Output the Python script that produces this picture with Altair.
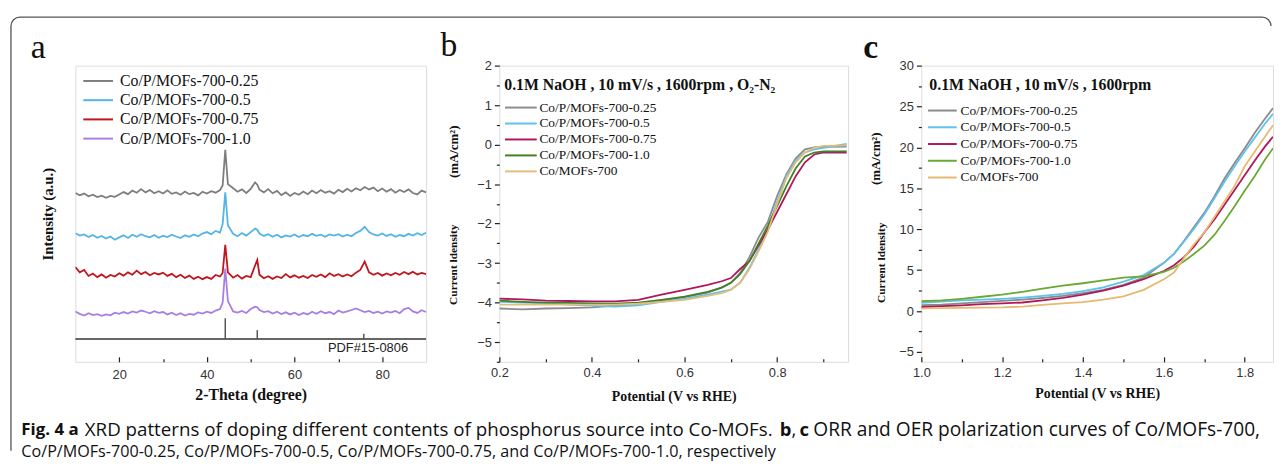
import math
import altair as alt
import pandas as pd

# ---------------- Panel a : XRD ----------------
xrd_labels = ["Co/P/MOFs-700-0.25", "Co/P/MOFs-700-0.5", "Co/P/MOFs-700-0.75", "Co/P/MOFs-700-1.0"]
xrd_colors = ["#7d7d7d", "#53b4e6", "#c0161e", "#a77fe3"]
xrd_theta = [10, 11, 12, 13, 14, 15, 16, 17, 18, 19, 20, 21, 22, 23, 24, 25, 26, 27, 28, 29,
             30, 31, 32, 33, 34, 35, 36, 37, 38, 39, 40, 41, 42, 43, 43.6, 44.2, 44.8,
             46, 47, 48, 49, 50, 51, 51.5, 52, 53, 54, 55, 56, 57, 58, 59, 60, 61,
             62, 63, 64, 65, 66, 67, 68, 69, 70, 71, 72, 73, 74, 75, 76, 77, 78, 79, 80, 81,
             82, 83, 84, 85, 86, 87, 88, 89, 90]
xrd_025 = [57.0, 56.2, 56.8, 55.9, 56.4, 55.6, 56.1, 55.4, 56.0, 55.7,
           56.5, 57.3, 56.6, 57.8, 57.1, 58.3, 57.2, 58.0, 56.9, 57.6,
           56.8, 57.9, 56.7, 57.2, 56.4, 57.5, 56.6, 57.0, 56.2, 57.4,
           56.8, 57.6, 57.1, 58.0, 59.5, 71.6, 60.0,
           58.6, 57.4, 58.2, 57.0, 58.4, 60.6, 59.8,
           58.1, 57.2, 58.3, 56.9, 57.7, 56.3, 57.2, 56.0, 57.0, 56.4,
           57.5, 56.6, 57.8, 56.9, 58.0, 57.1, 57.6, 56.8, 58.1, 57.3,
           58.4, 57.5, 58.6, 57.9, 59.0, 58.2, 58.8, 57.6, 58.5, 57.4,
           58.3, 57.1, 58.0, 57.3, 58.2, 57.0, 56.5, 57.8, 57.2]
xrd_05 = [43.4, 42.6, 43.0, 42.1, 42.8, 41.9, 42.5, 41.6, 42.3, 41.2,
          42.0, 42.7, 41.8, 42.9, 42.2, 43.1, 42.4, 42.0, 42.8, 41.9,
          42.6, 42.1, 42.9, 42.3, 41.8, 42.7, 42.2, 43.0, 42.4, 43.3,
          43.8, 43.1, 44.2, 43.6, 46.5, 57.2, 46.0,
          43.2, 42.4, 43.5, 42.6, 43.8, 45.0, 44.6,
          43.3, 42.5, 43.1, 42.2, 42.9, 42.0, 42.7, 42.3, 43.0, 42.1,
          42.8, 42.4, 43.2, 42.5, 42.9, 42.2, 43.0, 42.6, 43.1, 42.3,
          42.9, 42.4, 43.5, 44.2, 45.6, 43.8, 43.0, 42.6, 43.3, 42.5,
          43.1, 42.2, 42.8, 42.4, 43.2, 42.6, 43.4, 42.8, 43.6]
xrd_075 = [32.0, 30.2, 31.0, 29.0, 29.8, 28.6, 29.5, 28.4, 29.3, 28.8,
           29.9, 29.1, 30.2, 29.4, 30.8, 29.6, 30.3, 29.2, 30.0, 29.5,
           30.1, 29.0, 29.7, 28.6, 29.4, 28.3, 29.1, 28.0, 28.7, 27.9,
           28.6, 28.0, 29.3, 28.8, 30.0, 39.5, 30.2,
           28.4, 29.3, 28.1, 29.0, 28.6, 32.5, 34.4,
           29.4, 28.2, 28.9, 28.0, 28.8, 28.3, 29.6, 28.5, 29.2, 28.4,
           29.0, 28.3, 29.3, 28.7, 29.5, 28.6, 29.9, 29.0, 29.6, 28.8,
           29.5, 28.9, 30.1, 31.0, 33.8, 30.2, 29.4, 30.0, 29.1, 29.8,
           29.2, 30.0, 29.4, 30.3, 29.6, 30.4, 29.5, 30.0, 29.6]
xrd_10 = [17.0, 16.2, 15.6, 16.4, 15.8, 16.1, 15.5, 16.0, 15.7, 16.6,
          16.2, 16.8, 16.3, 17.0, 16.6, 17.3, 16.9, 16.4, 17.1, 16.5,
          16.8, 16.0, 16.6, 15.8, 16.4, 15.6, 16.2, 15.9, 16.7, 16.3,
          16.9, 16.5, 17.3, 17.8, 20.0, 31.5, 20.5,
          17.0, 16.6, 17.2, 16.5, 17.8, 18.6, 18.4,
          17.5, 16.8, 17.1, 16.3, 16.9, 16.1, 16.7, 16.0, 16.6, 15.8,
          16.5, 16.0, 16.9, 16.2, 17.1, 16.4, 16.8, 16.1, 17.3, 16.6,
          17.0, 17.5, 18.0, 17.4, 16.8, 17.2, 16.5, 16.9, 16.3, 17.0,
          16.6, 17.2, 16.4, 17.8, 18.2, 17.0, 16.5, 17.4, 16.8]
pdf_theta = [44.2, 51.5, 75.8]
pdf_top = [14.7, 10.7, 9.5]
pdf_base = 7.7
xrd_major = [20, 40, 60, 80]
xrd_minor = [30, 50, 70]

# ---------------- Panel b : ORR ----------------
pol_labels = ["Co/P/MOFs-700-0.25", "Co/P/MOFs-700-0.5", "Co/P/MOFs-700-0.75",
              "Co/P/MOFs-700-1.0", "Co/MOFs-700"]
orr_colors = ["#8c8c8c", "#5ec1ee", "#b0175c", "#437f24", "#e3bd7c"]
orr_v = [0.2, 0.25, 0.3, 0.35, 0.4, 0.45, 0.5, 0.55, 0.6, 0.65, 0.68, 0.7, 0.72,
         0.74, 0.76, 0.78, 0.8, 0.82, 0.84, 0.86, 0.88, 0.9, 0.95]
orr_025 = [-4.15, -4.17, -4.15, -4.14, -4.12, -4.08, -4.03, -3.95, -3.86, -3.75, -3.62, -3.5,
           -3.25, -2.85, -2.35, -1.95, -1.3, -0.75, -0.35, -0.12, -0.07, -0.06, -0.05]
orr_05 = [-3.98, -4.0, -4.02, -4.05, -4.08, -4.1, -4.07, -3.98, -3.9, -3.8, -3.72, -3.67,
          -3.5, -3.12, -2.65, -2.1, -1.45, -0.8, -0.4, -0.2, -0.12, -0.08, 0.02]
orr_075 = [-3.9, -3.92, -3.95, -3.96, -3.97, -3.97, -3.93, -3.8, -3.68, -3.55, -3.46, -3.38,
           -3.15, -2.95, -2.55, -2.15, -1.7, -1.25, -0.8, -0.45, -0.25, -0.2, -0.2]
orr_10 = [-3.95, -3.98, -4.0, -4.01, -4.02, -4.03, -4.0, -3.93, -3.85, -3.73, -3.62, -3.5,
          -3.28, -2.95, -2.5, -2.05, -1.55, -1.05, -0.6, -0.3, -0.2, -0.17, -0.17]
orr_co = [-4.05, -4.05, -4.05, -4.05, -4.05, -4.05, -4.03, -3.98, -3.93, -3.83, -3.76, -3.68,
          -3.5, -3.15, -2.7, -2.2, -1.5, -0.85, -0.45, -0.2, -0.08, -0.03, -0.02]
orr_x_major = [0.2, 0.4, 0.6, 0.8]
orr_x_minor = [0.3, 0.5, 0.7, 0.9]
orr_y_major = [-5, -4, -3, -2, -1, 0, 1, 2]
orr_y_minor = [-5.5, -4.5, -3.5, -2.5, -1.5, -0.5, 0.5, 1.5]

# ---------------- Panel c : OER ----------------
oer_colors = ["#8a8a8a", "#5ec1ee", "#b0175c", "#6aa932", "#e8b970"]
oer_v = [1.0, 1.05, 1.1, 1.15, 1.2, 1.25, 1.3, 1.35, 1.4, 1.45, 1.5, 1.55, 1.6, 1.625,
         1.65, 1.675, 1.7, 1.725, 1.75, 1.775, 1.8, 1.825, 1.85, 1.87]
oer_025 = [0.72, 0.8, 0.95, 1.1, 1.25, 1.4, 1.6, 1.85, 2.2, 2.6, 3.2, 4.1, 5.9, 7.0, 8.6,
           10.3, 12.0, 14.0, 16.2, 18.1, 19.9, 21.8, 23.5, 24.8]
oer_05 = [1.0, 1.15, 1.3, 1.4, 1.5, 1.65, 1.85, 2.1, 2.45, 2.9, 3.6, 4.4, 5.9, 7.0, 8.5,
          10.1, 11.8, 13.8, 15.8, 17.7, 19.5, 21.2, 22.9, 24.1]
oer_075 = [0.5, 0.6, 0.7, 0.85, 0.95, 1.05, 1.3, 1.6, 2.0, 2.5, 3.1, 3.9, 4.9, 5.6, 6.6,
           7.9, 9.6, 11.2, 13.0, 14.8, 16.6, 18.4, 20.1, 21.3]
oer_10 = [1.2, 1.3, 1.5, 1.75, 2.0, 2.35, 2.75, 3.1, 3.4, 3.75, 4.1, 4.25, 4.8, 5.3, 6.1,
          7.0, 8.0, 9.3, 11.0, 12.8, 14.7, 16.5, 18.5, 19.9]
oer_co = [0.32, 0.35, 0.38, 0.42, 0.45, 0.55, 0.75, 0.95, 1.1, 1.4, 1.8, 2.6, 3.9, 4.7, 6.5,
          8.2, 9.6, 11.5, 13.4, 15.3, 17.7, 19.5, 21.3, 22.7]
oer_x_major = [1.0, 1.2, 1.4, 1.6, 1.8]
oer_x_minor = [1.1, 1.3, 1.5, 1.7]
oer_y_major = [-5, 0, 5, 10, 15, 20, 25, 30]
oer_y_minor = [-2.5, 2.5, 7.5, 12.5, 17.5, 22.5, 27.5]

# ---------------- text ----------------
caption_1 = ["Fig. 4 a", "XRD patterns of doping different contents of phosphorus source into Co-MOFs.",
             "b", ",", "c", "ORR and OER polarization curves of Co/MOFs-700,"]
caption_2 = "Co/P/MOFs-700-0.25, Co/P/MOFs-700-0.5, Co/P/MOFs-700-0.75, and Co/P/MOFs-700-1.0, respectively"

# ================= layout / style =================
H = 299
WA, WB, WC = 354, 352, 355
SERIF = "Liberation Serif"
SANS = "Liberation Sans"
CAPFONT = "Open Sans"
AXC = dict(labelFont=SANS, labelFontSize=13, labelColor="#333", labelFlush=False,
           domain=False, grid=False, tickColor="#222", tickWidth=1.2,
           titleFont=SERIF, titleFontWeight="bold", titleColor="#111")


def one():
    return pd.DataFrame({"k": [0]})


def text_layer(txt, x, y, size, weight="normal", font=SERIF, angle=0,
               align="left", baseline="middle", color="#111"):
    return alt.Chart(one()).mark_text(
        text=txt, font=font, fontSize=size, fontWeight=weight, angle=angle,
        align=align, baseline=baseline, color=color
    ).encode(x=alt.value(x), y=alt.value(y))


def xtick_layer(values, size, scale):
    return alt.Chart(pd.DataFrame({"v": values})).mark_point(opacity=0).encode(
        x=alt.X("v:Q", scale=scale,
                axis=alt.Axis(orient="top", offset=-H, values=values, labels=False,
                              ticks=True, tickSize=size, title=None, **AXC)))


def ytick_layer(values, size, scale):
    return alt.Chart(pd.DataFrame({"v": values})).mark_point(opacity=0).encode(
        y=alt.Y("v:Q", scale=scale,
                axis=alt.Axis(orient="left", values=values, labels=False,
                              ticks=True, tickSize=size, title=None, **AXC)))


def long_df(xs, series, labels, xname, yname):
    rows = []
    for lab, ys in zip(labels, series):
        for xv, yv in zip(xs, ys):
            rows.append({xname: xv, yname: yv, "sample": lab})
    return pd.DataFrame(rows)


# ---------------- panel a ----------------
xa_scale = alt.Scale(domain=[10, 90], nice=False, zero=False)
ya_scale = alt.Scale(domain=[0, 100], nice=False, zero=False)
xrd_df = long_df(xrd_theta, [xrd_025, xrd_05, xrd_075, xrd_10], xrd_labels, "theta", "inten")

# figure frame: rounded box whose right and bottom sides fall outside the picture
BX0, BX1, BY0, BY1, BR = -65, 1207, -49, 398, 9
bw, bh = BX1 - BX0, BY1 - BY0
arc = math.pi * BR / 2
dash = [bw - 2 * BR + arc, (bh - 2 * BR) + arc + (bw - 2 * BR) + arc, bh - 2 * BR + arc + 2]
border = alt.Chart(one()).mark_rect(filled=False, stroke="#555", strokeWidth=1.3,
                                    cornerRadius=BR, strokeDash=dash).encode(
    x=alt.value(BX0), x2=alt.value(BX1), y=alt.value(BY0), y2=alt.value(BY1))

curves_a = alt.Chart(xrd_df).mark_line(strokeWidth=1.8, clip=True).encode(
    x=alt.X("theta:Q", scale=xa_scale,
            axis=alt.Axis(values=xrd_major, ticks=False, tickSize=0, labelPadding=7,
                          title="2-Theta (degree)", titleFontSize=16, titlePadding=5, **AXC)),
    y=alt.Y("inten:Q", scale=ya_scale,
            axis=alt.Axis(labels=False, ticks=False, tickSize=0, title="Intensity (a.u.)",
                          titleFontSize=15, titlePadding=20, **AXC)),
    color=alt.Color("sample:N", scale=alt.Scale(domain=xrd_labels, range=xrd_colors),
                    legend=alt.Legend(orient="none", legendX=26, legendY=7.5, title=None,
                                      symbolType="M-5.2,0H0.8", symbolSize=100,
                                      symbolStrokeWidth=2, labelFont=SERIF, labelFontSize=16,
                                      labelColor="#111", labelOffset=3, rowPadding=3.4,
                                      padding=0)),
)

pdf_df = pd.DataFrame({"theta": pdf_theta, "top": pdf_top, "base": [pdf_base] * len(pdf_theta)})
pdf_line = alt.Chart(pd.DataFrame({"y": [pdf_base]})).mark_rule(color="#333", strokeWidth=1.3).encode(
    y=alt.Y("y:Q", scale=ya_scale, axis=None))
pdf_sticks = alt.Chart(pdf_df).mark_rule(color="#555", strokeWidth=1.5).encode(
    x=alt.X("theta:Q", scale=xa_scale, axis=None),
    y=alt.Y("base:Q", scale=ya_scale, axis=None), y2="top:Q")

CY1, CY2 = 368, 390
layers_a = [border, curves_a, xtick_layer(xrd_major, 5, xa_scale), xtick_layer(xrd_minor, 3, xa_scale),
            pdf_line, pdf_sticks,
            text_layer("PDF#15-0806", 255, 285.5, 13, font=SANS, color="#222"),
            text_layer("a", -37.5, -7.5, 34, align="center", baseline="alphabetic"),
            text_layer(caption_1[0], -54.5, CY1, 17, weight="bold", font=CAPFONT),
            text_layer(caption_1[1], 9.5, CY1, 18.9, font=CAPFONT),
            text_layer(caption_1[2], 711, CY1, 18.6, weight="bold", font=CAPFONT),
            text_layer(caption_1[3], 723, CY1, 18.6, font=CAPFONT),
            text_layer(caption_1[4], 731, CY1, 18.6, weight="bold", font=CAPFONT),
            text_layer(caption_1[5], 745, CY1, 19.3, font=CAPFONT),
            text_layer(caption_2, -54.5, CY2, 16.3, font=CAPFONT)]
panel_a = alt.layer(*layers_a).resolve_axis(x="independent", y="independent").properties(
    width=WA, height=H)


# ---------------- panels b, c ----------------
def pol_panel(xs, series, colors, xdom, ydom, xmaj, xmin, ymaj, ymin, xfmt, width,
              header, header_x, header_size, leg_x, leg_y, leg_path, leg_off, leg_row,
              ytitle_pos, letter, letter_pos, letter_weight, title_pad):
    xs_ = alt.Scale(domain=xdom, nice=False, zero=False)
    ys_ = alt.Scale(domain=ydom, nice=False, zero=False)
    df = long_df(xs, series, pol_labels, "v", "j")
    curves = alt.Chart(df).mark_line(strokeWidth=1.8, clip=True).encode(
        x=alt.X("v:Q", scale=xs_,
                axis=alt.Axis(values=xmaj, format=xfmt, ticks=False, tickSize=0, labelPadding=5,
                              title="Potential (V vs RHE)", titleFontSize=14,
                              titlePadding=title_pad, **AXC)),
        y=alt.Y("j:Q", scale=ys_,
                axis=alt.Axis(values=ymaj, ticks=True, tickSize=5, labelPadding=3, title=None,
                              **AXC)),
        color=alt.Color("sample:N", scale=alt.Scale(domain=pol_labels, range=colors),
                        legend=alt.Legend(orient="none", legendX=leg_x, legendY=leg_y, title=None,
                                          symbolType=leg_path, symbolSize=100,
                                          symbolStrokeWidth=2, labelFont=SERIF, labelFontSize=13.5,
                                          labelColor="#111", labelOffset=leg_off,
                                          rowPadding=leg_row, padding=0)),
    )
    (t1x, t1y), (t2x, t2y) = ytitle_pos
    layers = [curves,
              xtick_layer(xmaj, 5, xs_), xtick_layer(xmin, 3, xs_), ytick_layer(ymin, 3, ys_),
              text_layer(header, header_x, 19.5, header_size, weight="bold"),
              text_layer("Current ldensity", t1x, t1y, 11.5, weight="bold", angle=270, align="center"),
              text_layer("(mA/cm²)", t2x, t2y, 13, weight="bold", angle=270, align="center"),
              text_layer(letter, letter_pos[0], letter_pos[1], 34, weight=letter_weight,
                         align="center", baseline="alphabetic")]
    return alt.layer(*layers).resolve_axis(x="independent", y="independent").properties(
        width=width, height=H)


panel_b = pol_panel(orr_v, [orr_025, orr_05, orr_075, orr_10, orr_co], orr_colors,
                    [0.2, 0.953], [-5.5, 2], orr_x_major, orr_x_minor, orr_y_major, orr_y_minor,
                    ".1f", WB, "0.1M NaOH , 10 mV/s , 1600rpm , O₂-N₂", 5, 15.9,
                    27, 35.6, "M-5.6,0H0.8", 0, 1.1, [(-46, 201), (-46, 87)], "b", (-51, -9.5),
                    "normal", 10)
panel_c = pol_panel(oer_v, [oer_025, oer_05, oer_075, oer_10, oer_co], oer_colors,
                    [1.0, 1.87], [-6.2, 30], oer_x_major, oer_x_minor, oer_y_major, oer_y_minor,
                    ".1f", WC, "0.1M NaOH , 10 mV/s , 1600rpm", 8, 16,
                    25, 38.6, "M-5.0,0H0.8", 1, 1.9, [(-40, 199), (-46, 94)], "c", (-51, -7.5),
                    "bold", 7)

chart = alt.hconcat(panel_a, panel_b, panel_c, spacing=74, bounds="flush").resolve_scale(
    color="independent").properties(
    padding={"left": 1, "top": 5, "right": 0, "bottom": 0}).configure_view(
    stroke="#222", strokeWidth=1.4).configure(font=SERIF, background="white")

chart.save("out.html", embed_options={"renderer": "svg", "actions": False})
